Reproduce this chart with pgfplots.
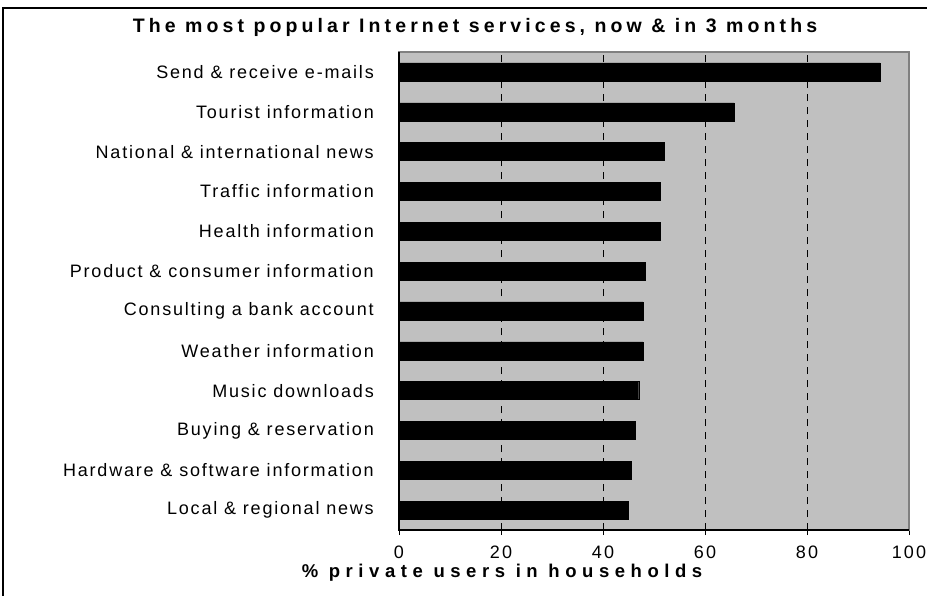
\documentclass[border=0pt]{standalone}
\usepackage{fontspec}
\setmainfont{Liberation Sans}
\newfontfamily\labfont{Liberation Sans}[LetterSpace=10]
\newfontfamily\tickfont{Liberation Sans}[LetterSpace=12]
\newfontfamily\titfont{Liberation Sans}[LetterSpace=21]
\newfontfamily\xlabfont{Liberation Sans}[LetterSpace=30]
\usepackage{pgfplots}
\pgfplotsset{compat=1.18}
\definecolor{plotgray}{RGB}{192,192,192}
\definecolor{bordergray}{RGB}{128,128,128}
\begin{document}
\begin{tikzpicture}
\useasboundingbox (0bp,0bp) rectangle (927bp,-596bp);
\draw[line width=1.6bp, black] (3bp,-596bp) -- (3bp,-8bp) -- (927bp,-8bp);
\begin{axis}[
  at={(399bp,-530bp)}, anchor=south west,
  scale only axis, width=510bp, height=478bp,
  xbar, bar width=18bp,
  xmin=0, xmax=100, ymin=-0.5, ymax=11.5,
  xtick={0,20,40,60,80,100},
  xticklabels={0,20,40,60,80,100},
  ytick={0,...,11},
  yticklabels={Local \& regional news, Hardware \& software information, Buying \& reservation, Music downloads, Weather information, Consulting a bank account, Product \& consumer information, Health information, Traffic information, National \& international news, Tourist information, Send \& receive e-mails},
  axis background/.style={fill=plotgray},
  axis line style={draw=bordergray, line width=1.2bp},
  xmajorgrids,
  grid style={black, line width=0.8bp, dash pattern=on 7bp off 6bp},
  ytick style={draw=none},
  xtick style={black, line width=0.8bp},
  xtick pos=bottom, tick align=outside,
  major tick length=5bp,
  yticklabel style={font=\labfont\fontsize{18bp}{21bp}\selectfont, anchor=east, inner sep=0pt, xshift=-20bp},
  xticklabel style={font=\tickfont\fontsize{18bp}{21bp}\selectfont, anchor=north, inner sep=0pt, yshift=-11bp},
  clip=false,
]
\addplot[fill=black, draw=black] coordinates {
  (45.0,0) (45.5,1) (46.3,2) (47.0,3) (47.8,4) (47.8,5)
  (48.2,6) (51.2,7) (51.2,8) (52.0,9) (65.7,10) (94.3,11)};
\draw[black, line width=1.2bp] (axis cs:0,11.5) -- (axis cs:0,-0.5) -- (axis cs:100,-0.5);
\end{axis}
\node[anchor=base, font=\titfont\bfseries\fontsize{19.5bp}{22bp}\selectfont] at (475bp,-32bp) {The most popular Internet services, now \& in 3 months};
\node[anchor=base, font=\xlabfont\bfseries\fontsize{18.5bp}{22bp}\selectfont] at (502bp,-577bp) {\% private users in households};
\end{tikzpicture}
\end{document}
